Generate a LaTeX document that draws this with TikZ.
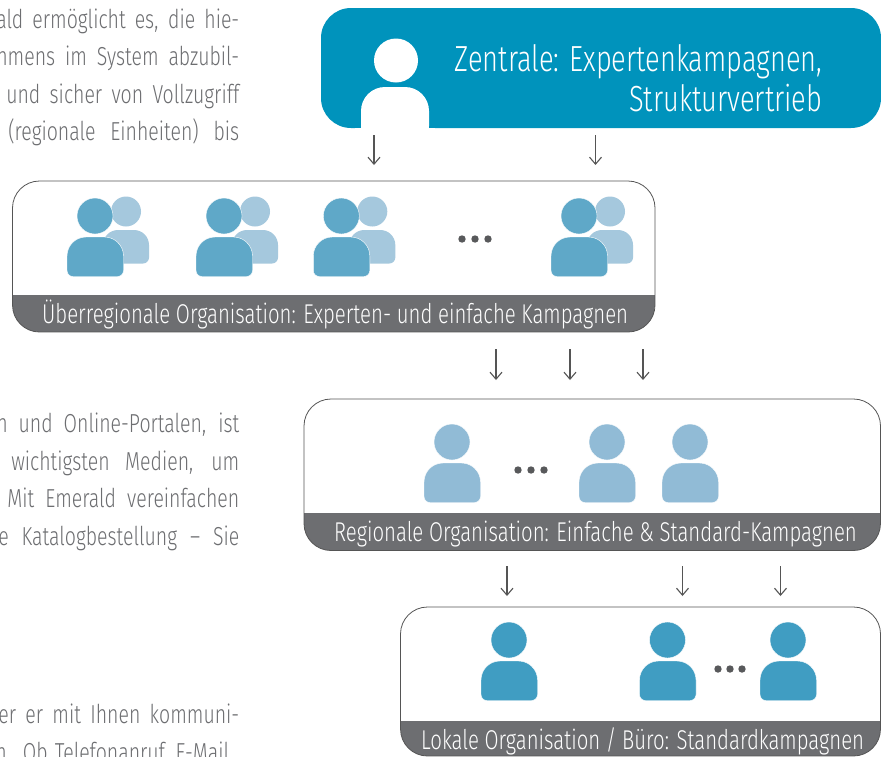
\documentclass[tikz,border=0pt]{standalone}
\usepackage{fontspec}
\setmainfont[FakeStretch=0.75]{Fira Sans Light}
\definecolor{blueA}{HTML}{0093BC}
\definecolor{frontB}{HTML}{5FA8C8}
\definecolor{backB}{HTML}{A5C8DD}
\definecolor{regC}{HTML}{91BBD6}
\definecolor{locD}{HTML}{409DC2}
\definecolor{barG}{HTML}{6D6E71}
\definecolor{dotG}{HTML}{58595B}
\definecolor{lineG}{HTML}{555555}
\usetikzlibrary{arrows.meta}
\tikzset{
  arr/.style={draw=lineG,line width=1.1pt,-{Straight Barb[length=7pt,width=12pt,line width=1.1pt]}},
  orgframe/.style={draw=lineG,line width=0.8pt,rounded corners=27pt},
  barlabel/.style={text=white,anchor=base west,inner sep=0pt,font=\fontsize{27.15}{32}\selectfont},
  bodyline/.style={text=barG,anchor=base east,inner sep=0pt,font=\fontsize{26}{32}\selectfont},
  titleline/.style={text=white,anchor=base east,inner sep=0pt,font=\fontsize{36.3}{44}\selectfont},
  dot/.style={fill=dotG,draw=none,circle,minimum size=7.4pt,inner sep=0pt}
}
% front figure: x of body left, y of body top, colour
\newcommand\figperson[3]{%
  \fill[#3,draw=white,line width=0.4pt] (#1+28,#2-21) circle (18);
  \fill[#3,draw=white,line width=0.4pt,rounded corners=6pt] (#1+28,#2+39.5) -- (#1,#2+39.5) [rounded corners=19pt] -- (#1,#2) -- (#1+56.5,#2) [rounded corners=6pt] -- (#1+56.5,#2+39.5) -- cycle;
}
\newcommand\figback[3]{%
  \fill[#3] (#1+23,#2-18.5) circle (15);
  \fill[#3,rounded corners=6pt] (#1+23,#2+33.5) -- (#1,#2+33.5) [rounded corners=15pt] -- (#1,#2) -- (#1+46,#2) [rounded corners=6pt] -- (#1+46,#2+33.5) -- cycle;
}
\newcommand\orgbox[5]{% x0 y0 x1 y1 bar top
  \begin{scope}
    \clip[rounded corners=27pt] (#1,#2) rectangle (#3,#4);
    \fill[barG] (#1,#5) rectangle (#3,#4);
  \end{scope}
  \draw[orgframe] (#1,#2) rectangle (#3,#4);
}
\begin{document}
\begin{tikzpicture}[x=1pt,y=-1pt]
\useasboundingbox (0,0) rectangle (881,756);
\fill[white] (0,0) rectangle (881,756);
\begin{scope}
\clip (0,0) rectangle (881,756);
% body text
\node[bodyline] (t1) at (239.5,28) {\makebox[243pt][s]{ald ermöglicht es, die hie-}};
\node[bodyline] (t2) at (239.5,65) {\makebox[243pt][s]{hmens im System abzubil-}};
\node[bodyline] (t3) at (239.5,103) {\makebox[233pt][s]{und sicher von Vollzugriff}};
\node[bodyline] (t4) at (239.5,140) {\makebox[231pt][s]{(regionale Einheiten) bis}};
\node[bodyline] (t5) at (239.5,432.5) {\makebox[243pt][s]{n und Online-Portalen, ist}};
\node[bodyline] (t6) at (239.5,470) {\makebox[228pt][s]{wichtigsten Medien, um}};
\node[bodyline] (t7) at (239.5,507.5) {\makebox[232pt][s]{Mit Emerald vereinfachen}};
\node[bodyline] (t8) at (239.5,545) {\makebox[241pt][s]{e Katalogbestellung – Sie}};
\node[bodyline] (t9) at (239.5,723.5) {\makebox[241pt][s]{er er mit Ihnen kommuni-}};
\node[bodyline] (t10) at (233.5,761) {\makebox[238pt][s]{n. Ob Telefonanruf, E-Mail,}};
% head office
\fill[blueA,rounded corners=30pt] (321,8) rectangle (881,128);
\fill[white] (396,60.5) circle (22);
\fill[white,rounded corners=24pt] (361,150) -- (361,87) -- (429,87) -- (429,150) -- cycle;
\fill[white] (355,128) rectangle (435,160);
\node[titleline] (zt1) at (822.5,71) {Zentrale: Expertenkampagnen,};
\node[titleline] (zt2) at (822.5,111) {Strukturvertrieb};
% org boxes
\orgbox{12.5}{181}{655}{332}{295}
\orgbox{304}{399}{880.5}{550.5}{513}
\orgbox{400.5}{607}{880.5}{756}{721}
\node[barlabel] (l1) at (42,323) {Überregionale Organisation: Experten- und einfache Kampagnen};
\node[barlabel] (l2) at (334,541) {Regionale Organisation: Einfache \& Standard-Kampagnen};
\node[barlabel] (l3) at (421,749) {Lokale Organisation / Büro: Standardkampagnen};
% figures, first row
\figback{103}{230}{backB}\figperson{67}{237}{frontB}
\figback{232}{230}{backB}\figperson{196}{237}{frontB}
\figback{349.3}{230}{backB}\figperson{313.3}{237}{frontB}
\figback{587}{230}{backB}\figperson{551}{237}{frontB}
\node[dot] (d1) at (462,239) {};
\node[dot] (d2) at (475,239) {};
\node[dot] (d3) at (488,239) {};
% second row
\figperson{424}{463}{regC}
\figperson{579}{463}{regC}
\figperson{662}{463}{regC}
\node[dot] (d4) at (518,470) {};
\node[dot] (d5) at (531,470) {};
\node[dot] (d6) at (544,470) {};
% third row
\figperson{481}{661}{locD}
\figperson{639.5}{661}{locD}
\figperson{760}{661}{locD}
\node[dot] (d7) at (718,669) {};
\node[dot] (d8) at (730,669) {};
\node[dot] (d9) at (742,669) {};
% arrows
\foreach \n/\x/\ya/\yb in {a/374/135/165,b/595.5/135/165,c/496/349/380,d/570/349/380,e/643/349/380,f/507/566/596,g/682.5/566/596,h/780.5/566/596}{
  \coordinate (\n s) at (\x,\ya);
  \coordinate (\n e) at (\x,\yb);
  \draw[arr] (\n s) -- (\n e);
}
\end{scope}
\end{tikzpicture}
\end{document}
